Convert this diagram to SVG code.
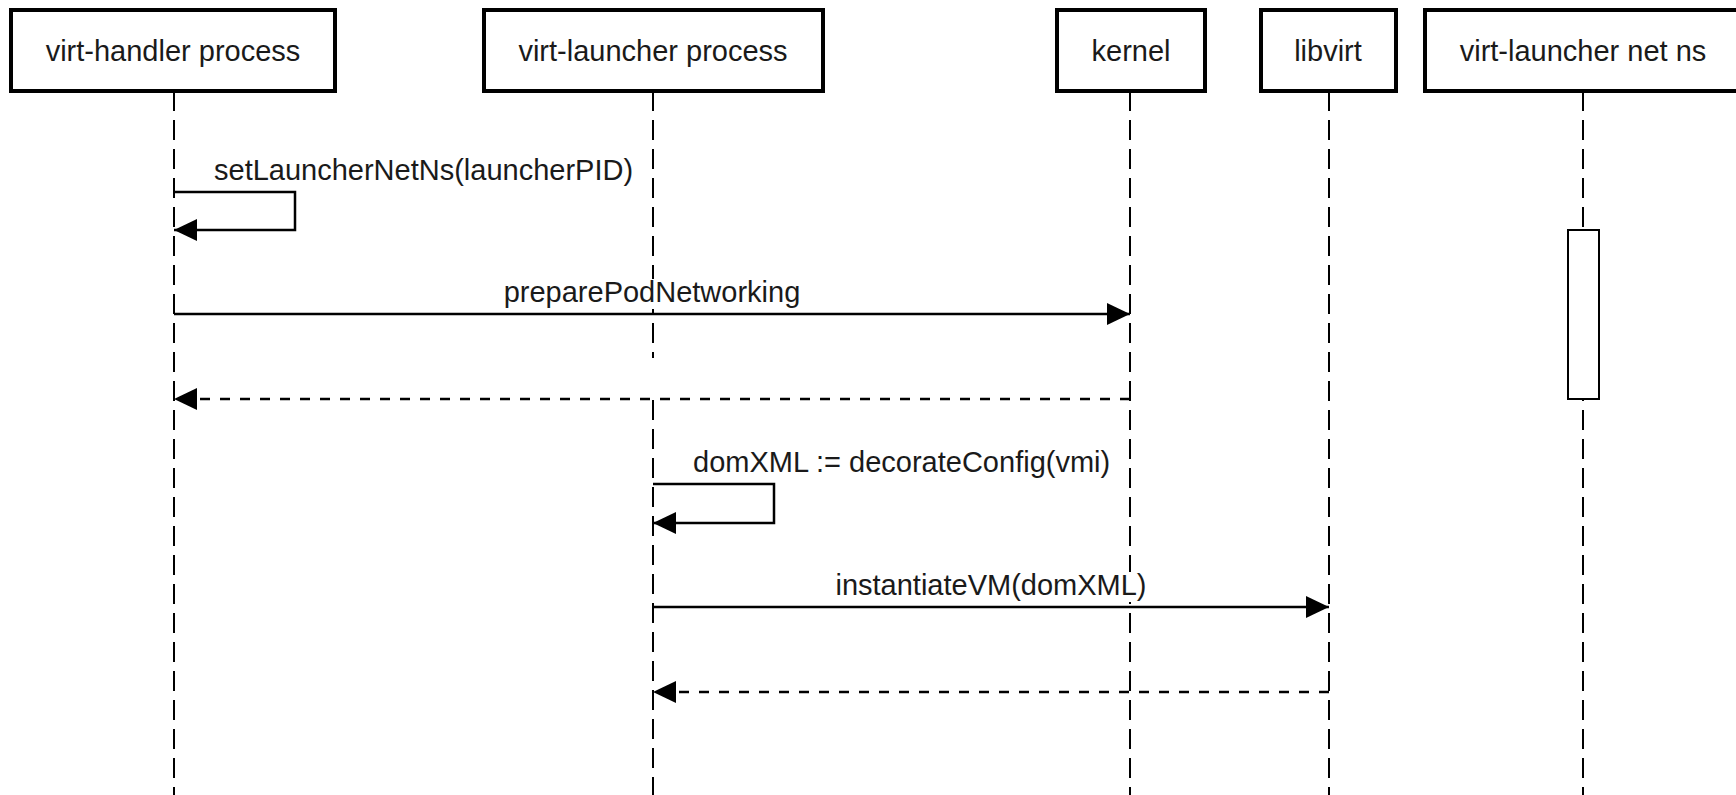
<svg xmlns="http://www.w3.org/2000/svg" width="1736" height="795" viewBox="0 0 1736 795">
<style>
  .box { fill: #ffffff; stroke: #000000; stroke-width: 4; }
  .lbl { font-family: "Liberation Sans", Arial, sans-serif; font-size: 29px; fill: #1a1a1a; }
  .bg { fill: #ffffff; stroke: none; }
  .life { stroke: #000000; stroke-width: 2; stroke-dasharray: 20 9; fill: none; }
  .msg { stroke: #000000; stroke-width: 2.5; fill: none; }
  .ret { stroke: #000000; stroke-width: 2.5; fill: none; stroke-dasharray: 10 10; }
  .act { fill: #ffffff; stroke: #000000; stroke-width: 2; }
</style>
<defs>
  <marker id="arrow" viewBox="0 0 23 22" refX="23" refY="11" markerWidth="23" markerHeight="22" markerUnits="userSpaceOnUse" orient="auto">
    <path d="M0,0 L23,11 L0,22 Z" fill="#000000"/>
  </marker>
</defs>
<rect width="1736" height="795" fill="#ffffff"/>

<g id="lifelines">
  <line class="life" x1="174" y1="91" x2="174" y2="795"/>
  <line class="life" x1="653" y1="91" x2="653" y2="358"/>
  <line class="life" x1="653" y1="400" x2="653" y2="795"/>
  <line class="life" x1="1130" y1="91" x2="1130" y2="795"/>
  <line class="life" x1="1329" y1="91" x2="1329" y2="795"/>
  <line class="life" x1="1583" y1="91" x2="1583" y2="795"/>
</g>

<g id="node-virt-handler">
  <rect class="box" x="11" y="10" width="324" height="81"/>
  <text class="lbl" x="173" y="61" text-anchor="middle">virt-handler process</text>
</g>
<g id="node-virt-launcher">
  <rect class="box" x="484" y="10" width="339" height="81"/>
  <text class="lbl" x="653" y="61" text-anchor="middle">virt-launcher process</text>
</g>
<g id="node-kernel">
  <rect class="box" x="1057" y="10" width="148" height="81"/>
  <text class="lbl" x="1131" y="61" text-anchor="middle">kernel</text>
</g>
<g id="node-libvirt">
  <rect class="box" x="1261" y="10" width="135" height="81"/>
  <text class="lbl" x="1328" y="61" text-anchor="middle">libvirt</text>
</g>
<g id="node-netns">
  <rect class="box" x="1425" y="10" width="320" height="81"/>
  <text class="lbl" x="1583" y="61" text-anchor="middle">virt-launcher net ns</text>
  <rect class="act" x="1568" y="230" width="31" height="169"/>
</g>

<g id="connectors">
  <path class="msg" d="M174,192 H295 V230 H174" marker-end="url(#arrow)"/>
  <rect class="bg" x="212" y="157" width="428" height="30"/>
  <text class="lbl" x="214" y="180">setLauncherNetNs(launcherPID)</text>

  <line class="msg" x1="174" y1="314" x2="1130" y2="314" marker-end="url(#arrow)"/>
  <rect class="bg" x="501" y="279" width="302" height="30"/>
  <text class="lbl" x="652" y="302" text-anchor="middle">preparePodNetworking</text>

  <line class="ret" x1="1130" y1="399" x2="174" y2="399" marker-end="url(#arrow)"/>

  <path class="msg" d="M653,484 H774 V523 H653" marker-end="url(#arrow)"/>
  <rect class="bg" x="691" y="449" width="426" height="30"/>
  <text class="lbl" x="693" y="472">domXML := decorateConfig(vmi)</text>

  <line class="msg" x1="653" y1="607" x2="1329" y2="607" marker-end="url(#arrow)"/>
  <rect class="bg" x="833" y="572" width="316" height="30"/>
  <text class="lbl" x="991" y="595" text-anchor="middle">instantiateVM(domXML)</text>

  <line class="ret" x1="1329" y1="692" x2="653" y2="692" marker-end="url(#arrow)"/>
</g>
</svg>
